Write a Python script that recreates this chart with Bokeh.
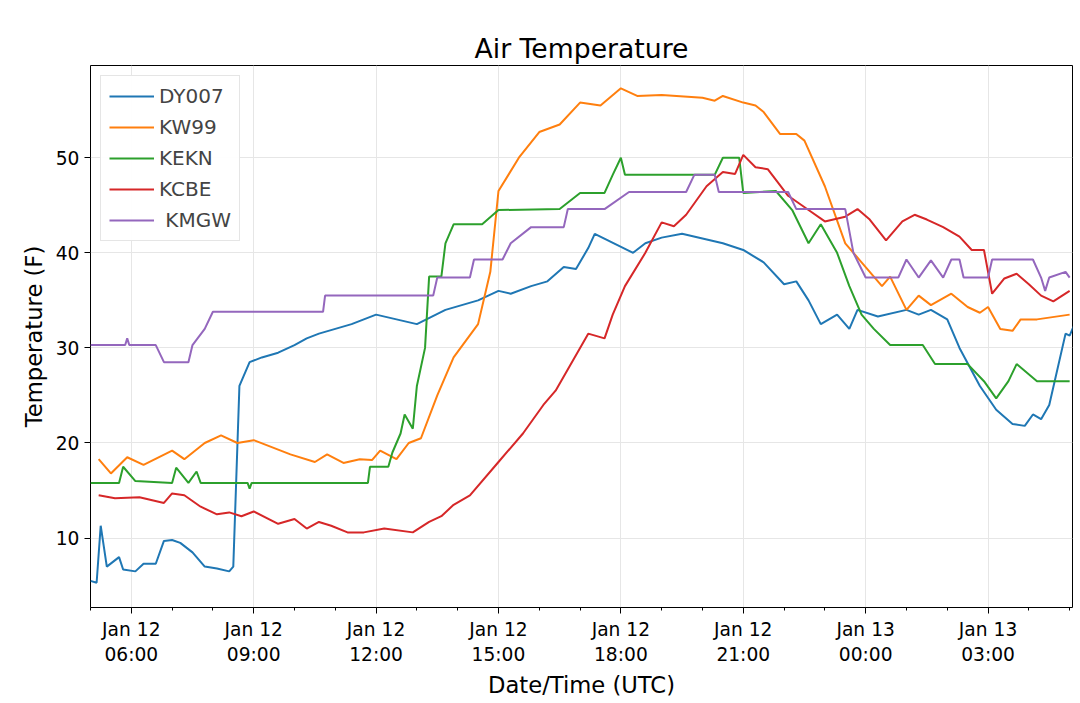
from datetime import datetime, timedelta
from bokeh.plotting import figure
from bokeh.models import Range1d, FixedTicker, Legend, LegendItem, DatetimeTickFormatter
from bokeh.embed import file_html
from bokeh.resources import INLINE

base = datetime(2018, 1, 12)
def T(hs): return [base + timedelta(hours=h) for h in hs]

dy_t = [5.0,5.15,5.25,5.4,5.7,5.8,6.1,6.3,6.6,6.8,7.0,7.2,7.5,7.8,8.1,8.4,8.5,8.65,8.9,9.2,9.6,10.0,10.3,10.6,11.0,11.4,11.7,12.0,12.5,13,13.7,14.5,15,15.3,15.8,16.2,16.6,16.9,17.2,17.36,18.3,18.6,19.0,19.5,20,20.5,21,21.5,22.0,22.3,22.6,22.9,23.3,23.6,23.8,24.3,25,25.3,25.6,26,26.3,26.8,27.2,27.6,27.9,28.1,28.3,28.5,28.9,29.0,29.1]
dy_v = [5.5,5.3,11.3,7.0,8.0,6.7,6.5,7.3,7.3,9.7,9.8,9.5,8.5,7.0,6.8,6.5,7.0,26.0,28.5,29.0,29.5,30.3,31.0,31.5,32.0,32.5,33.0,33.5,33.0,32.5,34.0,35.0,36.0,35.7,36.5,37.0,38.5,38.3,40.5,42.0,40.0,41.0,41.6,42.0,41.5,41.0,40.3,39.0,36.7,37.0,35.0,32.5,33.5,32.0,34.0,33.3,34.0,33.5,34.0,33.0,30.0,26.0,23.5,22.0,21.8,23.0,22.5,24.0,31.5,31.3,32.3]

kw_t = [5.2,5.5,5.9,6.3,7.0,7.3,7.8,8.2,8.6,9.0,9.9,10.5,10.8,11.2,11.6,11.9,12.1,12.5,12.8,13.1,13.5,13.9,14.5,14.8,15.0,15.5,16.0,16.5,17.0,17.5,18.0,18.4,19.0,20.0,20.3,20.5,21.0,21.3,21.5,21.9,22.3,22.5,23.0,23.5,23.9,24.4,24.6,25.0,25.3,25.6,26.1,26.5,26.8,27.0,27.3,27.6,27.8,28.2,29.0]
kw_v = [18.3,16.8,18.5,17.7,19.2,18.3,20.0,20.8,20.0,20.3,18.8,18.0,18.8,17.9,18.3,18.2,19.2,18.3,20.0,20.5,25.0,29.0,32.5,38.0,46.5,50.0,52.7,53.5,55.8,55.5,57.3,56.5,56.6,56.3,56.0,56.5,55.8,55.5,54.8,52.5,52.5,51.8,47.0,41.0,39.0,36.5,37.5,34.0,35.5,34.5,35.7,34.3,33.7,34.3,32.0,31.8,33.0,33.0,33.5]

ke_t = [5.0,5.7,5.8,6.1,7.0,7.1,7.4,7.6,7.7,8.85,8.9,8.95,11.8,11.85,12.3,12.4,12.6,12.7,12.9,13.0,13.2,13.3,13.6,13.7,13.9,14.6,15.0,16.5,17.0,17.6,17.8,18.0,18.1,20.3,20.5,20.9,21.0,21.8,22.2,22.6,22.9,23.3,23.6,23.9,24.2,24.6,25.4,25.7,26.5,26.9,27.2,27.5,27.7,28.2,29.0]
ke_v = [15.8,15.8,17.5,16.0,15.8,17.4,15.8,17.0,15.8,15.8,15.2,15.8,15.8,17.5,17.5,19.0,21.0,23.0,21.5,26.0,30.0,37.5,37.5,41.0,43.0,43.0,44.5,44.6,46.3,46.3,48.2,50.0,48.2,48.2,50.0,50.0,46.3,46.5,44.5,41.0,43.0,40.0,36.5,33.5,32.0,30.3,30.3,28.3,28.3,26.5,24.7,26.5,28.3,26.5,26.5]

kc_t = [5.2,5.6,6.2,6.8,7.0,7.3,7.7,8.1,8.4,8.7,9.0,9.6,10.0,10.3,10.6,10.9,11.3,11.7,12.2,12.9,13.3,13.6,13.9,14.3,15.0,15.6,16.1,16.4,17.2,17.6,17.8,18.1,18.6,19.0,19.3,19.6,20.1,20.5,20.8,21.0,21.3,21.6,22.1,22.6,23.0,23.5,23.8,24.1,24.5,24.9,25.2,25.5,25.9,26.3,26.6,26.9,27.1,27.4,27.7,28.0,28.3,28.6,29.0]
kc_v = [14.5,14.2,14.3,13.7,14.7,14.5,13.3,12.5,12.7,12.3,12.8,11.5,12.0,11.0,11.7,11.3,10.6,10.6,11.0,10.6,11.7,12.3,13.5,14.5,18.0,21.0,24.0,25.5,31.5,31.0,33.5,36.5,40.0,43.2,42.8,44.0,47.0,48.5,48.3,50.3,49.0,48.8,46.0,44.5,43.3,43.8,44.6,43.5,41.3,43.3,44.0,43.5,42.7,41.7,40.3,40.3,35.7,37.3,37.8,36.7,35.5,34.9,36.0]

km_t = [5.0,5.85,5.9,5.95,6.6,6.8,7.4,7.5,7.8,8.0,10.7,10.75,13.4,13.5,14.3,14.4,15.1,15.3,15.8,16.6,16.7,17.6,18.2,19.6,19.8,20.3,20.4,22.1,22.3,23.5,23.7,24.0,24.8,25.0,25.3,25.6,25.9,26.1,26.3,26.4,27.0,27.1,28.1,28.3,28.4,28.5,28.9,29.0]
km_v = [30.3,30.3,31.0,30.3,30.3,28.5,28.5,30.3,32.0,33.8,33.8,35.5,35.5,37.4,37.4,39.3,39.3,41.0,42.7,42.7,44.6,44.6,46.4,46.4,48.2,48.2,46.4,46.4,44.6,44.6,40.0,37.4,37.4,39.3,37.4,39.2,37.4,39.3,39.3,37.4,37.4,39.3,39.3,37.4,36.0,37.4,38.0,37.4]

series = [("DY007", dy_t, dy_v, "#1f77b4"), ("KW99", kw_t, kw_v, "#ff7f0e"),
          ("KEKN", ke_t, ke_v, "#2ca02c"), ("KCBE", kc_t, kc_v, "#d62728"),
          (" KMGW", km_t, km_v, "#9467bd")]

p = figure(width=1074, height=700, x_axis_type="datetime", output_backend="svg",
           toolbar_location=None, title="Air Temperature",
           x_range=Range1d(base + timedelta(hours=5.0), base + timedelta(hours=29.07)),
           y_range=Range1d(2.7, 59.7),
           min_border_left=90, min_border_right=2, min_border_bottom=88, min_border_top=65)
p.title.align = "center"
p.title.text_font = "DejaVu Sans"
p.title.text_font_size = "20pt"
p.title.text_font_style = "normal"
p.title.text_color = "black"
p.title.standoff = 4

items = []
for name, t, v, c in series:
    r = p.line(T(t), v, line_color=c, line_width=2)
    items.append(LegendItem(label=name, renderers=[r]))
leg = Legend(items=items, location="top_left", label_text_font="DejaVu Sans",
             label_text_font_size="15pt", border_line_color="#cccccc",
             glyph_width=45, spacing=7, padding=8, margin=10)
p.add_layout(leg)

maj = [(base + timedelta(hours=h)).timestamp() * 1000 for h in range(6, 29, 3)]
mnr = [(base + timedelta(hours=h)).timestamp() * 1000 for h in range(5, 30)]
p.xaxis.ticker = FixedTicker(ticks=maj, minor_ticks=mnr)
p.xaxis.formatter = DatetimeTickFormatter(hours="%b %d\n%H:%M", days="%b %d\n%H:%M",
                                          hourmin="%b %d\n%H:%M")
p.yaxis.ticker = FixedTicker(ticks=[10, 20, 30, 40, 50], minor_ticks=[])
for ax in (p.xaxis, p.yaxis):
    ax.major_label_text_font = "DejaVu Sans"
    ax.major_label_text_font_size = "14pt"
    ax.major_label_text_color = "black"
    ax.axis_label_text_font = "DejaVu Sans"
    ax.axis_label_text_font_size = "17pt"
    ax.axis_label_text_font_style = "normal"
    ax.axis_label_text_color = "black"
    ax.axis_line_color = None
    ax.major_tick_out = 6
    ax.major_tick_in = 0
    ax.minor_tick_out = 3
    ax.minor_tick_in = 0
p.xaxis.axis_label = "Date/Time (UTC)"
p.yaxis.axis_label = "Temperature (F)"
p.yaxis.axis_label_standoff = 6
p.xaxis.axis_label_standoff = 4
p.outline_line_color = "black"
p.grid.grid_line_color = "#e6e6e6"
open("out.html", "w").write(file_html(p, INLINE))
